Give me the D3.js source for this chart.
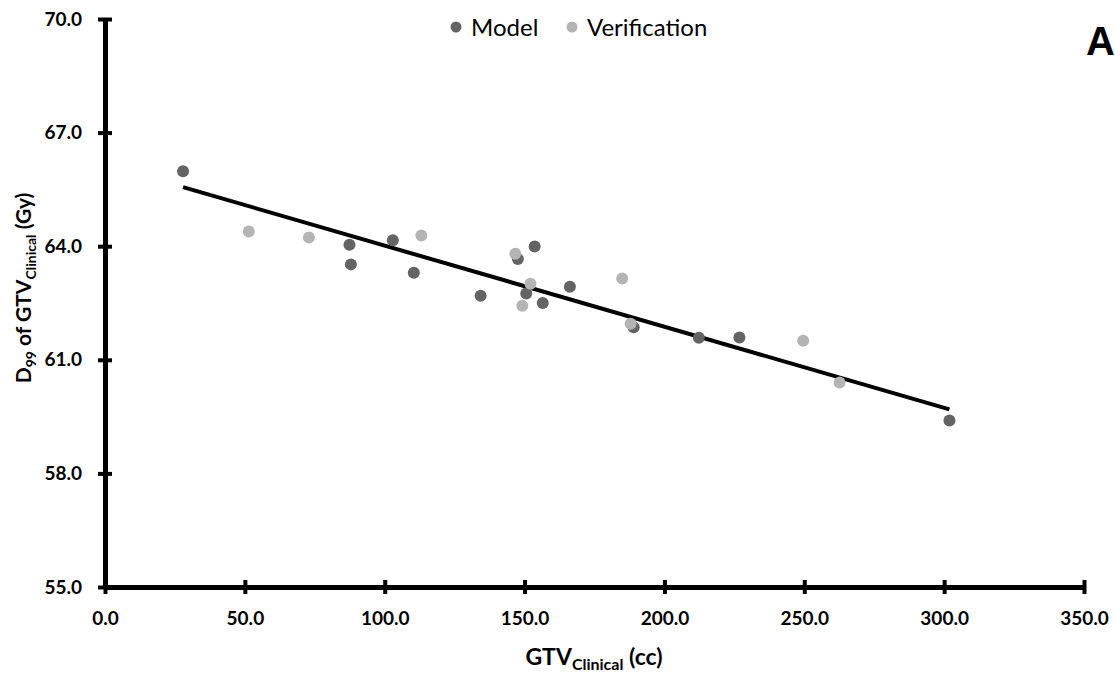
<!DOCTYPE html>
<html>
<head>
<meta charset="utf-8">
<script src="https://cdn.jsdelivr.net/npm/d3@7"></script>
<style>
  body { margin: 0; background: #fff; }
  svg { display: block; font-family: Lato, "Open Sans", sans-serif; }
</style>
</head>
<body>
<div id="chart"></div>
<script>
// data
const modelX = [27.9, 87.4, 87.9, 102.9, 110.4, 134.3, 147.6, 150.6, 153.6, 156.5, 166.2, 189.0, 212.3, 226.8, 301.9];
const modelY = [65.98, 64.04, 63.52, 64.16, 63.30, 62.69, 63.66, 62.75, 63.99, 62.50, 62.93, 61.86, 61.58, 61.59, 59.40];
const verifX = [51.4, 72.9, 113.1, 146.7, 149.2, 152.1, 184.9, 187.9, 249.6, 262.6];
const verifY = [64.39, 64.23, 64.28, 63.80, 62.43, 63.01, 63.15, 61.95, 61.50, 60.40];
// trend line (as drawn over the model range)
const trendX = [27.9, 301.9];
const trendY = [65.56, 59.69];
const xTicks = [0, 50, 100, 150, 200, 250, 300, 350];
const yTicks = [55, 58, 61, 64, 67, 70];

const W = 1115, H = 675;
const margin = { left: 105, right: 31, top: 19, bottom: 88 };
const width = W - margin.left - margin.right;
const height = H - margin.top - margin.bottom;

const svg = d3.select("#chart").append("svg")
  .attr("width", W).attr("height", H);

const g = svg.append("g").attr("transform", `translate(${margin.left},${margin.top})`);

const x = d3.scaleLinear().domain([0, 350]).range([0, width]);
const y = d3.scaleLinear().domain([55, 70]).range([height, 0]);

// axes - cross ticks, thick black line
const xAxis = g.append("g").attr("transform", `translate(0,${height})`)
  .call(d3.axisBottom(x).tickValues(xTicks).tickFormat(d3.format(".1f")).tickSizeInner(7).tickSizeOuter(0).tickPadding(18));
const yAxis = g.append("g")
  .call(d3.axisLeft(y).tickValues(yTicks).tickFormat(d3.format(".1f")).tickSizeInner(7).tickSizeOuter(0).tickPadding(16));

[xAxis, yAxis].forEach(a => {
  a.attr("font-family", "Lato, 'Open Sans', sans-serif").attr("font-size", 19);
  a.select(".domain").attr("stroke", "#000").attr("stroke-width", 5);
  a.selectAll(".tick line").attr("stroke", "#000").attr("stroke-width", 4);
  a.selectAll(".tick text").attr("fill", "#000").attr("font-weight", "bold");
});
xAxis.selectAll(".tick line").attr("y1", -7);
yAxis.selectAll(".tick line").attr("x1", 7);

// trend line
const line = d3.line().x(d => x(d[0])).y(d => y(d[1]));
g.append("path")
  .datum(d3.zip(trendX, trendY))
  .attr("d", line)
  .attr("fill", "none").attr("stroke", "#000").attr("stroke-width", 4);

// points
g.append("g").selectAll("circle")
  .data(d3.zip(modelX, modelY))
  .join("circle")
  .attr("cx", d => x(d[0])).attr("cy", d => y(d[1]))
  .attr("r", 6).attr("fill", "#646464");

g.append("g").selectAll("circle")
  .data(d3.zip(verifX, verifY))
  .join("circle")
  .attr("cx", d => x(d[0])).attr("cy", d => y(d[1]))
  .attr("r", 6).attr("fill", "#b4b4b4");

// legend
const legend = svg.append("g").attr("font-size", 24);
legend.append("circle").attr("cx", 456).attr("cy", 27).attr("r", 5.5).attr("fill", "#646464");
legend.append("text").attr("x", 471).attr("y", 27).attr("dy", "0.36em").text("Model");
legend.append("circle").attr("cx", 572).attr("cy", 27).attr("r", 5.5).attr("fill", "#b4b4b4");
legend.append("text").attr("x", 587).attr("y", 27).attr("dy", "0.36em").text("Verification");

// axis titles
const xt = svg.append("text")
  .attr("x", 594).attr("y", 665)
  .attr("text-anchor", "middle").attr("font-size", 23).attr("font-weight", "bold");
xt.append("tspan").text("GTV");
xt.append("tspan").attr("font-size", 16).attr("dy", 5).text("Clinical");
xt.append("tspan").attr("dy", -5).text(" (cc)");

const yt = svg.append("text")
  .attr("transform", "translate(31,288) rotate(-90)")
  .attr("text-anchor", "middle").attr("font-size", 21).attr("font-weight", "bold");
yt.append("tspan").text("D");
yt.append("tspan").attr("font-size", 14).attr("dy", 5).text("99");
yt.append("tspan").attr("dy", -5).text(" of GTV");
yt.append("tspan").attr("font-size", 14).attr("dy", 5).text("Clinical");
yt.append("tspan").attr("dy", -5).text(" (Gy)");

// panel letter
svg.append("text").attr("x", 1086).attr("y", 55)
  .attr("font-family", "Liberation Sans, Arial, sans-serif")
  .attr("font-size", 40).attr("font-weight", "bold").text("A");
</script>
</body>
</html>
